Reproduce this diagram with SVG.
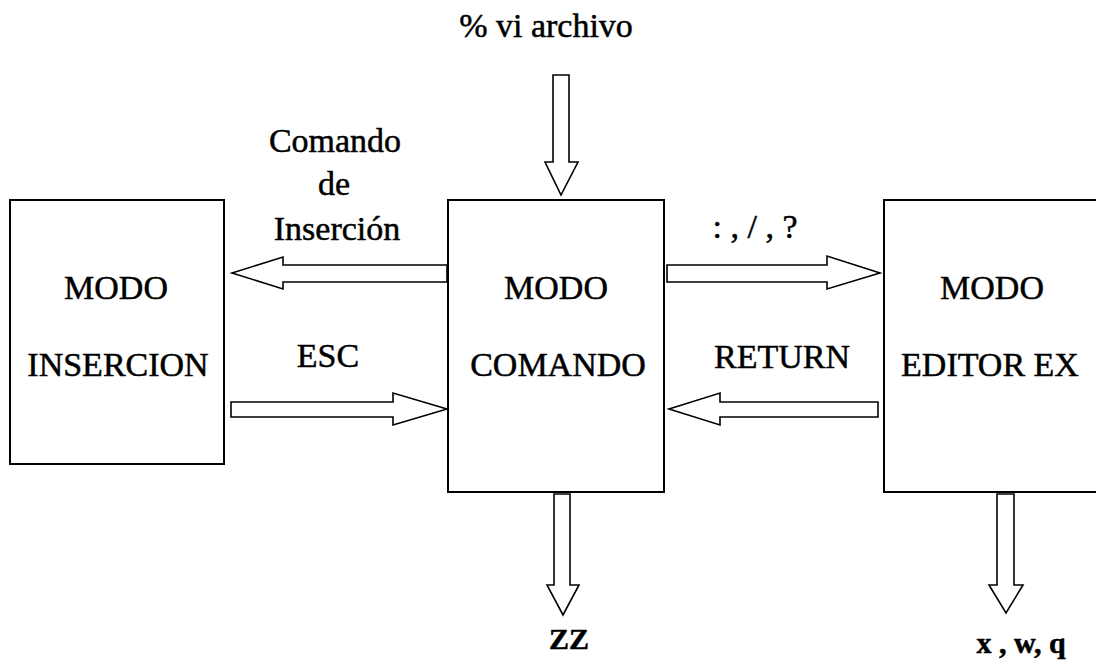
<svg xmlns="http://www.w3.org/2000/svg" width="1096" height="669" viewBox="0 0 1096 669">
<style>
.box{fill:#fff;stroke:#000;stroke-width:2}
.arr{fill:#fff;stroke:#000;stroke-width:1.6;stroke-linejoin:miter}
text{font-family:'Liberation Serif','DejaVu Serif','Times New Roman',serif;fill:#000;text-anchor:middle;stroke:#000;stroke-width:0.5}
.lbl{font-size:34px}
.bold{font-size:30px;font-weight:bold}
</style>
<rect width="1096" height="669" fill="#fff"/>
<g id="node-insercion">
<rect class="box" x="10" y="200" width="214" height="264"/>
<text class="lbl" x="116" y="299" font-family="Liberation Serif, serif">MODO</text>
<text class="lbl" x="118" y="376" font-family="Liberation Serif, serif">INSERCION</text>
</g>
<g id="node-comando">
<rect class="box" x="448" y="200" width="216" height="292"/>
<text class="lbl" x="556" y="299" font-family="Liberation Serif, serif">MODO</text>
<text class="lbl" x="558" y="376" font-family="Liberation Serif, serif">COMANDO</text>
</g>
<g id="node-editor">
<rect class="box" x="884" y="200" width="220" height="292"/>
<text class="lbl" x="992" y="299" font-family="Liberation Serif, serif">MODO</text>
<text class="lbl" x="990" y="376" font-family="Liberation Serif, serif">EDITOR EX</text>
</g>
<g id="connectors">
<polygon class="arr" points="553,75 569,75 569,162 578,162 561,195 545,162 553,162"/>
<polygon class="arr" points="447,265 447,282 283,282 283,289 232,273 283,257 283,265"/>
<polygon class="arr" points="231,402 393,402 393,393 447,409 393,425 393,417 231,417"/>
<polygon class="arr" points="667,265 827,265 827,256 880,273 827,289 827,282 667,282"/>
<polygon class="arr" points="878,402 878,417 720,417 720,425 669,409 720,393 720,402"/>
<polygon class="arr" points="554,494 570,494 570,585 579,585 563,615 547,585 554,585"/>
<polygon class="arr" points="997,494 1014,494 1014,585 1023,585 1006,613 989,585 997,585"/>
</g>
<g id="labels">
<text class="lbl" x="546" y="37" font-family="Liberation Serif, serif">% vi archivo</text>
<text class="lbl" x="335" y="152" font-family="Liberation Serif, serif">Comando</text>
<text class="lbl" x="334" y="195" font-family="Liberation Serif, serif">de</text>
<text class="lbl" x="337" y="240" font-family="Liberation Serif, serif">Inserción</text>
<text class="lbl" x="755" y="238" font-family="Liberation Serif, serif">: , / , ?</text>
<text class="lbl" x="328" y="367" font-family="Liberation Serif, serif">ESC</text>
<text class="lbl" x="782" y="368" font-family="Liberation Serif, serif">RETURN</text>
<text class="bold" x="569" y="649" font-family="Liberation Serif, serif">ZZ</text>
<text class="bold" x="1021" y="653" font-family="Liberation Serif, serif">x , w, q</text>
</g>
</svg>
